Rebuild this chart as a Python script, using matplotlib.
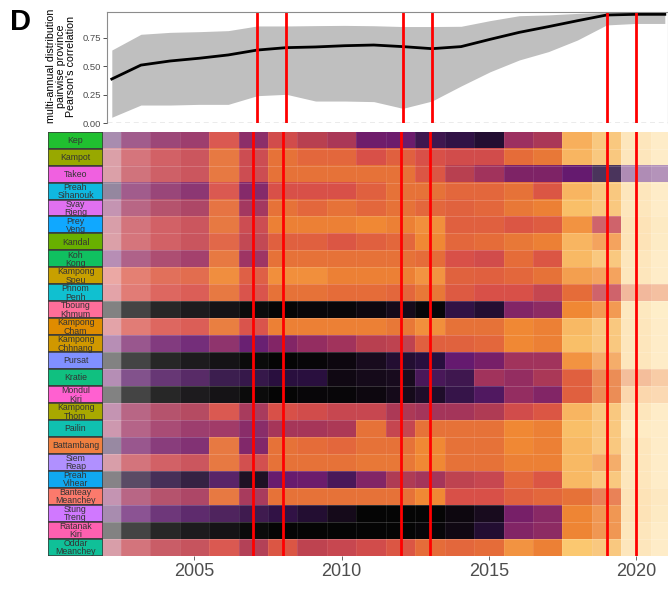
import numpy as np
import matplotlib.pyplot as plt
from matplotlib.colors import LinearSegmentedColormap
from matplotlib.patches import Rectangle

plt.rcParams['font.family'] = ['Liberation Sans', 'DejaVu Sans']

# top panel: pairwise province correlation (mean + range)
years = list(range(2002, 2022))
corr_mean = [0.388, 0.51, 0.546, 0.57, 0.599, 0.642, 0.663, 0.669, 0.68, 0.686,
             0.672, 0.654, 0.672, 0.736, 0.797, 0.847, 0.899, 0.949, 0.955, 0.955]
corr_hi = [0.642, 0.78, 0.797, 0.803, 0.812, 0.853, 0.853, 0.856, 0.858, 0.855,
           0.848, 0.848, 0.85, 0.9, 0.943, 0.95, 0.963, 0.972, 0.972, 0.972]
corr_lo = [0.053, 0.16, 0.16, 0.166, 0.166, 0.242, 0.254, 0.195, 0.195, 0.19,
           0.131, 0.195, 0.327, 0.452, 0.555, 0.628, 0.73, 0.862, 0.875, 0.875]
event_years = [2007, 2008, 2012, 2013, 2019, 2020]

provinces = ['Kep', 'Kampot', 'Takeo', 'Preah Sihanouk', 'Svay Rieng', 'Prey Veng',
             'Kandal', 'Koh Kong', 'Kampong Speu', 'Phnom Penh', 'Tboung Khmum',
             'Kampong Cham', 'Kampong Chhnang', 'Pursat', 'Kratie', 'Mondul Kiri',
             'Kampong Thom', 'Pailin', 'Battambang', 'Siem Reap', 'Preah Vihear',
             'Banteay Meanchey', 'Stung Treng', 'Ratanak Kiri', 'Oddar Meanchey']
box_colors = ['#20c030', '#98a800', '#f060e0', '#10b8e0', '#e070f0', '#10a8ff',
              '#68b000', '#10c060', '#c8a000', '#10c0d0', '#ff6e9a', '#e08c00',
              '#d09800', '#8090ff', '#10c080', '#ff60d0', '#a8a800', '#10c0b0',
              '#f08040', '#b090ff', '#10a8f0', '#fc7a6c', '#d078ff', '#ff60b0',
              '#10c098']

# one row per province, columns 2002..2021
heat_rows = [
    [0.20, 0.33, 0.36, 0.38, 0.60, 0.35, 0.58, 0.50, 0.45, 0.28, 0.27, 0.15, 0.12, 0.08, 0.40, 0.45, 0.85, 0.88, 0.92, 0.95],
    [0.50, 0.55, 0.56, 0.55, 0.72, 0.56, 0.72, 0.68, 0.68, 0.60, 0.65, 0.60, 0.58, 0.58, 0.70, 0.74, 0.86, 0.88, 0.92, 0.95],
    [0.50, 0.53, 0.55, 0.55, 0.72, 0.56, 0.72, 0.72, 0.72, 0.72, 0.72, 0.62, 0.50, 0.42, 0.32, 0.32, 0.25, 0.10, 0.24, 0.24],
    [0.10, 0.33, 0.35, 0.33, 0.60, 0.33, 0.60, 0.60, 0.60, 0.65, 0.72, 0.72, 0.68, 0.68, 0.72, 0.62, 0.86, 0.88, 0.92, 0.95],
    [0.35, 0.42, 0.45, 0.44, 0.70, 0.42, 0.72, 0.68, 0.72, 0.68, 0.72, 0.68, 0.66, 0.68, 0.74, 0.76, 0.88, 0.88, 0.92, 0.95],
    [0.48, 0.54, 0.56, 0.55, 0.72, 0.56, 0.76, 0.76, 0.76, 0.78, 0.76, 0.79, 0.65, 0.65, 0.62, 0.64, 0.80, 0.55, 0.90, 0.93],
    [0.50, 0.55, 0.56, 0.54, 0.65, 0.53, 0.65, 0.65, 0.62, 0.65, 0.68, 0.78, 0.68, 0.70, 0.74, 0.76, 0.86, 0.80, 0.90, 0.94],
    [0.28, 0.38, 0.42, 0.40, 0.72, 0.40, 0.72, 0.72, 0.72, 0.72, 0.72, 0.70, 0.60, 0.58, 0.70, 0.62, 0.87, 0.88, 0.92, 0.95],
    [0.60, 0.62, 0.63, 0.65, 0.78, 0.64, 0.79, 0.79, 0.76, 0.76, 0.76, 0.80, 0.66, 0.65, 0.68, 0.72, 0.82, 0.80, 0.92, 0.95],
    [0.55, 0.60, 0.60, 0.60, 0.72, 0.60, 0.72, 0.72, 0.70, 0.70, 0.68, 0.74, 0.63, 0.60, 0.60, 0.54, 0.70, 0.55, 0.72, 0.74],
    [0.00, 0.00, 0.00, 0.01, 0.01, 0.00, 0.00, 0.01, 0.01, 0.02, 0.04, 0.01, 0.12, 0.08, 0.33, 0.36, 0.78, 0.78, 0.93, 0.96],
    [0.55, 0.60, 0.60, 0.60, 0.74, 0.60, 0.76, 0.76, 0.76, 0.76, 0.74, 0.79, 0.72, 0.72, 0.78, 0.76, 0.87, 0.88, 0.92, 0.95],
    [0.28, 0.30, 0.28, 0.26, 0.35, 0.25, 0.33, 0.38, 0.42, 0.50, 0.52, 0.65, 0.66, 0.68, 0.78, 0.76, 0.88, 0.88, 0.92, 0.95],
    [0.00, 0.00, 0.00, 0.01, 0.01, 0.00, 0.00, 0.01, 0.02, 0.05, 0.08, 0.10, 0.25, 0.30, 0.42, 0.42, 0.80, 0.82, 0.92, 0.95],
    [0.27, 0.22, 0.20, 0.18, 0.12, 0.12, 0.10, 0.10, 0.03, 0.04, 0.05, 0.18, 0.15, 0.42, 0.38, 0.45, 0.65, 0.74, 0.75, 0.80],
    [0.00, 0.00, 0.00, 0.01, 0.01, 0.00, 0.00, 0.01, 0.01, 0.02, 0.04, 0.07, 0.13, 0.20, 0.38, 0.33, 0.65, 0.74, 0.85, 0.85],
    [0.35, 0.42, 0.45, 0.47, 0.60, 0.44, 0.60, 0.58, 0.55, 0.55, 0.46, 0.43, 0.43, 0.47, 0.58, 0.62, 0.86, 0.88, 0.92, 0.95],
    [0.40, 0.40, 0.40, 0.38, 0.40, 0.34, 0.44, 0.44, 0.46, 0.72, 0.54, 0.72, 0.72, 0.72, 0.78, 0.76, 0.88, 0.88, 0.95, 0.95],
    [0.12, 0.30, 0.30, 0.30, 0.72, 0.32, 0.72, 0.70, 0.68, 0.72, 0.72, 0.78, 0.72, 0.72, 0.78, 0.76, 0.87, 0.88, 0.92, 0.95],
    [0.48, 0.54, 0.56, 0.55, 0.72, 0.58, 0.72, 0.72, 0.72, 0.74, 0.74, 0.78, 0.72, 0.72, 0.76, 0.76, 0.87, 0.82, 0.92, 0.95],
    [0.02, 0.08, 0.10, 0.08, 0.20, 0.05, 0.26, 0.27, 0.18, 0.33, 0.47, 0.43, 0.52, 0.55, 0.68, 0.62, 0.87, 0.88, 0.92, 0.95],
    [0.35, 0.42, 0.45, 0.44, 0.72, 0.44, 0.72, 0.72, 0.72, 0.72, 0.72, 0.78, 0.60, 0.60, 0.65, 0.68, 0.72, 0.70, 0.90, 0.92],
    [0.20, 0.25, 0.22, 0.20, 0.17, 0.14, 0.12, 0.08, 0.04, 0.00, 0.00, 0.00, 0.02, 0.05, 0.30, 0.35, 0.77, 0.77, 0.90, 0.93],
    [0.00, 0.00, 0.00, 0.01, 0.01, 0.00, 0.00, 0.00, 0.00, 0.00, 0.00, 0.01, 0.03, 0.08, 0.33, 0.36, 0.77, 0.77, 0.92, 0.95],
    [0.48, 0.54, 0.53, 0.53, 0.60, 0.48, 0.62, 0.52, 0.55, 0.58, 0.62, 0.70, 0.68, 0.70, 0.80, 0.76, 0.90, 0.88, 0.92, 0.95],
]
year_alpha = [0.5, 0.75, 0.87, 0.92, 0.95, 0.98, 1, 1, 1, 1,
              1, 1, 1, 1, 1, 1, 1, 0.85, 0.5, 0.47]

cmap = LinearSegmentedColormap.from_list('heat', [
    (0.00, '#050505'), (0.05, '#1a0c20'), (0.10, '#2a1040'), (0.15, '#401850'),
    (0.20, '#501860'), (0.25, '#651a70'), (0.30, '#782068'), (0.35, '#8a2a65'),
    (0.40, '#9c3060'), (0.45, '#aa3858'), (0.50, '#b84050'), (0.55, '#c84850'),
    (0.60, '#d85048'), (0.65, '#e06040'), (0.70, '#e56c3a'), (0.74, '#e87838'),
    (0.78, '#f08834'), (0.82, '#f4a050'), (0.86, '#f8b460'), (0.90, '#fbc870'),
    (0.95, '#fdd888'), (1.00, '#fee8a0')])

W, H = 668, 589
fig = plt.figure(figsize=(W / 100, H / 100), dpi=100)


def px_box(l, t, r, b):
    return [l / W, 1 - b / H, (r - l) / W, (b - t) / H]


# ---- top panel
ax = fig.add_axes(px_box(107, 11.7, 668, 123.3))
ax.fill_between(years, corr_lo, corr_hi, color='#bfbfbf', lw=0)
ax.plot(years, corr_mean, color='black', lw=2)
for yr in event_years:
    ax.axvline(yr, color='red', lw=2)
ax.axhline(0, color='#666666', lw=0.9, ls=(0, (4, 3)))
ax.set_xlim(2001.835, 2021.11)
ax.set_ylim(0, 0.978)
ax.set_xticks([])
ax.set_yticks([0, 0.25, 0.5, 0.75], labels=['0.00', '0.25', '0.50', '0.75'])
ax.tick_params(axis='y', labelsize=6.8, labelcolor='#4d4d4d', color='#333333',
               length=3, width=0.6, pad=1.5)
for side in ['top', 'right', 'left']:
    ax.spines[side].set_color('#8c8c8c')
    ax.spines[side].set_linewidth(0.8)
ax.spines['bottom'].set_visible(False)

fig.text(61 / W, 1 - 66 / H,
         "multi-annual distribution\npairwise province\nPearson's correlation",
         rotation=90, ha='center', va='center', fontsize=7.7, linespacing=1.0)
fig.text(10 / W, 1 - 8 / H, 'D', fontsize=21, fontweight='bold', ha='left', va='top')

# ---- heatmap
axh = fig.add_axes(px_box(103, 131.7, 668, 555.7))
rgba = cmap(np.array(heat_rows))
rgba[..., 3] = np.array(year_alpha)[None, :]
axh.imshow(rgba, extent=(2001.5, 2021.5, len(provinces), 0), aspect='auto',
           interpolation='nearest')
axh.hlines(np.arange(1, len(provinces)), 2001.5, 2021.5, color='white', lw=0.5, alpha=0.25)
axh.vlines(np.arange(2002.5, 2021), 0, len(provinces), color='white', lw=0.5, alpha=0.12)
for yr in event_years:
    axh.axvline(yr, color='red', lw=2)
axh.set_xlim(2001.895, 2021.086)
axh.set_ylim(len(provinces), 0)
axh.set_yticks([])
axh.set_xticks([2005, 2010, 2015, 2020])
axh.tick_params(axis='x', labelsize=13, labelcolor='#4d4d4d', color='#4d4d4d',
                length=3, width=0.6, pad=2)
for s in axh.spines.values():
    s.set_visible(False)

# ---- province label boxes
axl = fig.add_axes(px_box(48, 131.7, 103, 555.7))
axl.set_xlim(0, 1)
axl.set_ylim(len(provinces), 0)
axl.axis('off')
for i, (name, col) in enumerate(zip(provinces, box_colors)):
    axl.add_patch(Rectangle((0, i), 1, 1, facecolor=col, edgecolor='#3a3a3a', lw=1.1))
for i, name in enumerate(provinces):
    axl.text(0.5, i + 0.52, name.replace(' ', '\n'), ha='center', va='center',
             fontsize=6.3, linespacing=0.92, color='#333333')

fig.savefig('out.png', dpi=100)
